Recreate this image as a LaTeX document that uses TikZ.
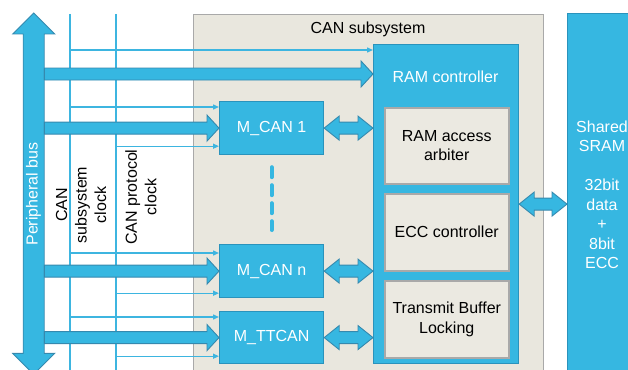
\documentclass[tikz,border=0pt]{standalone}
\usepackage{fontspec}
\setmainfont{Liberation Sans}
\usetikzlibrary{calc,arrows.meta}
\definecolor{cblue}{HTML}{36B7E1}
\definecolor{cblueD}{HTML}{2A93BC}
\definecolor{arrD}{HTML}{3589AE}
\definecolor{beige}{HTML}{E9E7DE}
\definecolor{gborder}{HTML}{A9A9A9}
\definecolor{innerfill}{HTML}{EBE9E1}
\definecolor{lineC}{HTML}{3DB5E0}
\newcommand\myfatarrow[2]{\draw[fat] let \p1=(#1), \p2=(#2) in
  (\x1,\y1+6) -- (\x2-12,\y1+6) -- (\x2-12,\y1+13) -- (\x2,\y1) -- (\x2-12,\y1-13) -- (\x2-12,\y1-6) -- (\x1,\y1-6) -- cycle;}
\newcommand\mydblarrow[2]{\draw[fat] let \p1=(#1), \p2=(#2) in
  (\x1,\y1) -- (\x1+15,\y1+12) -- (\x1+15,\y1+6) -- (\x2-15,\y1+6) -- (\x2-15,\y1+12) -- (\x2,\y1) -- (\x2-15,\y1-12) -- (\x2-15,\y1-6) -- (\x1+15,\y1-6) -- (\x1+15,\y1-12) -- cycle;}
\begin{document}
\begin{tikzpicture}[x=1pt,y=-1pt,font=\fontsize{16}{19.5}\selectfont,
  bluebox/.style={draw=cblueD,line width=1.2pt,fill=cblue,text=white,inner sep=0,align=center,anchor=north west},
  graybox/.style={draw=gborder,line width=1.5pt,fill=innerfill,text=black,inner sep=0,align=center,anchor=north west},
  fat/.style={draw=arrD,line width=0.9pt,fill=cblue,line join=miter},
  clk/.style={draw=lineC,line width=1.4pt},
  thinarr/.style={clk,-{Triangle[length=6pt,width=5pt]}}]
\useasboundingbox (0,0) rectangle (628,369);
\clip (0,0) rectangle (628,369);

% CAN subsystem frame
\node[draw=gborder,fill=beige,line width=1.2pt,minimum width=350pt,minimum height=400pt,anchor=north west,inner sep=0] (cansub) at (193,14) {};
\node (cansublbl) at (368,29) {CAN subsystem};

% Shared SRAM
\node[bluebox,minimum width=80pt,minimum height=400pt] (sram) at (567,13) {};
\node[text=white,align=center] (sramtxt) at (602,195) {Shared\\SRAM\\\mbox{}\\32bit\\data\\+\\8bit\\ECC};

% RAM controller
\node[bluebox,minimum width=145pt,minimum height=319pt] (ramctrl) at (373,44) {};
\node[text=white] (ramlbl) at (445.5,77) {RAM controller};
\node[graybox,minimum width=124pt,minimum height=76pt] (arb) at (384,107) {RAM access\\arbiter};
\node[graybox,minimum width=124pt,minimum height=77pt] (ecc) at (384,193) {ECC controller};
\node[graybox,minimum width=124pt,minimum height=77pt] (tbl) at (384,280) {Transmit Buffer\\Locking};

% M_CAN boxes
\node[bluebox,minimum width=104pt,minimum height=53pt] (mcan1) at (219,101) {M\_CAN 1};
\node[bluebox,minimum width=104pt,minimum height=53pt] (mcann) at (219,244) {M\_CAN n};
\node[bluebox,minimum width=104pt,minimum height=52pt] (mttcan) at (219,311) {M\_TTCAN};

% dashed dots
\coordinate (d1) at ($(mcan1.south)+(0,12)$);
\coordinate (d2) at ($(mcann.north)+(0,-14)$);
\draw[cblue,line width=4pt,line cap=round,dash pattern=on 10pt off 8pt] (d1) -- (d2);

% clock lines
\coordinate (ckA) at (70,14);
\coordinate (ckAb) at (70,372);
\coordinate (ckB) at (116,14);
\coordinate (ckBb) at (116,372);
\draw[clk] (ckA) -- (ckAb);
\draw[clk] (ckB) -- (ckBb);

\coordinate (r1) at ($(ramctrl.north west)+(0,6)$);
\coordinate (r2) at ($(ramctrl.north west)+(0,30)$);
\coordinate (m1a) at ($(mcan1.north west)+(0,6)$);
\coordinate (m1b) at ($(mcan1.south west)+(0,-9)$);
\coordinate (mna) at ($(mcann.north west)+(0,9)$);
\coordinate (mnb) at ($(mcann.south west)+(0,-5)$);
\coordinate (mta) at ($(mttcan.north west)+(0,6)$);
\coordinate (mtb) at ($(mttcan.south west)+(0,-8)$);
\draw[thinarr] (ckA |- r1) -- (r1);
\draw[thinarr] (ckA |- m1a) -- (m1a);
\draw[thinarr] (ckB |- m1b) -- (m1b);
\draw[thinarr] (ckA |- mna) -- (mna);
\draw[thinarr] (ckB |- mnb) -- (mnb);
\draw[thinarr] (ckA |- mta) -- (mta);
\draw[thinarr] (ckB |- mtb) -- (mtb);

% rotated labels
\node[rotate=90,align=center] (ckAtxt) at (81,205) {CAN\\subsystem\\clock};
\node[rotate=90,align=center] (ckBtxt) at (141,197) {CAN protocol\\clock};

% peripheral bus
\node[inner sep=0,minimum width=21pt,minimum height=361pt,anchor=north west] (bus) at (23,13) {};
\draw[fat] let \p1=(bus.north), \p2=(bus.south) in
  (\x1,\y1) -- (\x1+21,\y1-21) -- (\x1+10.5,\y1-21) -- (\x2+10.5,\y2+21) -- (\x2+21,\y2+21) -- (\x2,\y2)
  -- (\x2-21,\y2+21) -- (\x2-10.5,\y2+21) -- (\x1-10.5,\y1-21) -- (\x1-21,\y1-21) -- cycle;
\node[text=white,rotate=90] (bustxt) at (33.5,194) {Peripheral bus};

% fat arrows
\myfatarrow{bus.east |- r2}{r2}
\myfatarrow{bus.east |- mcan1.west}{mcan1.west}
\myfatarrow{bus.east |- mcann.west}{mcann.west}
\myfatarrow{bus.east |- mttcan.west}{mttcan.west}
\mydblarrow{mcan1.east}{mcan1.east -| ramctrl.west}
\mydblarrow{mcann.east}{mcann.east -| ramctrl.west}
\mydblarrow{mttcan.east}{mttcan.east -| ramctrl.west}
\mydblarrow{ramctrl.east}{ramctrl.east -| sram.west}
\end{tikzpicture}
\end{document}
